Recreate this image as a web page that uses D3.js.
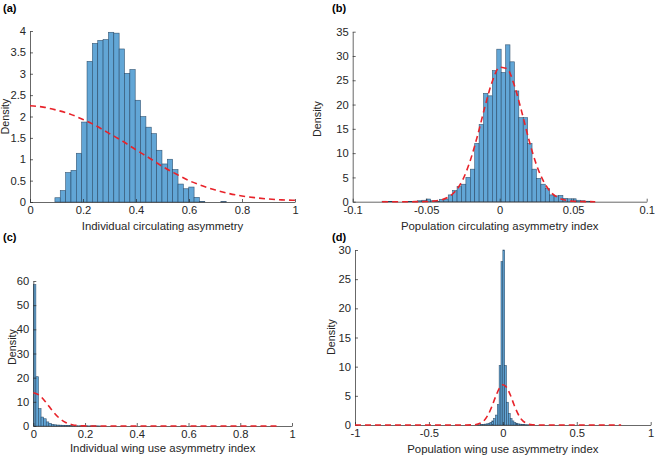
<!DOCTYPE html>
<html><head><meta charset="utf-8">
<script src="https://cdn.jsdelivr.net/npm/d3@7"></script>
<style>
body{margin:0;background:#fff;}
svg{display:block;font-family:"Liberation Sans",Arial,Helvetica,sans-serif;}
</style></head><body>
<svg id="chart" width="656" height="456"></svg>
<script>
// ================= DATA =================
const panelLabels = ["(a)", "(b)", "(c)", "(d)"];
const xAxisTitles = [
  "Individual circulating asymmetry",
  "Population circulating asymmetry index",
  "Individual wing use asymmetry index",
  "Population wing use asymmetry index"
];
const yAxisTitle = "Density";

// (a) Individual circulating asymmetry
const aBinStart = 0.094, aBinWidth = 0.0202;
const aDensity = [0.10,0.27,0.69,0.74,1.14,1.87,3.29,3.71,3.78,3.80,3.97,3.95,3.58,3.01,3.10,2.38,2.00,1.75,1.60,1.21,0.89,1.00,0.76,0.42,0.31,0.35,0.11,0.015,0,0,0,0.01];
const aFitX = [0,0.05,0.1,0.15,0.2,0.25,0.3,0.35,0.4,0.45,0.5,0.55,0.6,0.65,0.7,0.75,0.8,0.85,0.9,0.95,1];
const aFitY = [2.25,2.22,2.15,2.06,1.93,1.78,1.60,1.42,1.22,1.03,0.83,0.66,0.50,0.38,0.28,0.20,0.14,0.10,0.07,0.05,0.04];
const aXTicks = [0,0.2,0.4,0.6,0.8,1];
const aXTickLabels = ["0","0.2","0.4","0.6","0.8","1"];
const aYTicks = [0,0.5,1,1.5,2,2.5,3,3.5,4];
const aYTickLabels = ["0","0.5","1","1.5","2","2.5","3","3.5","4"];

// (b) Population circulating asymmetry index
const bBinStart = -0.080, bBinWidth = 0.003;
const bDensity = [0.1,0.05,0.05,0,0,0.05,0.05,0.1,0.2,0.3,0.55,0.2,0.1,
  0.5,0.55,1.4,2.3,3.1,3.6,5.0,6.7,12.0,15.9,22.3,21.8,27.0,31.4,26.6,32.3,28.8,22.8,17.3,17.3,12.0,6.7,4.8,3.6,2.7,1.4,1.2,
  1.3,0.7,0.6,0.6,0.3,0.2,0.1,0.05];
const bFitX = [-0.08,-0.075,-0.07,-0.065,-0.06,-0.055,-0.05,-0.045,-0.04,-0.035,-0.03,-0.025,-0.02,-0.015,-0.01,-0.005,0,0.005,0.01,0.015,0.02,0.025,0.03,0.035,0.04,0.045,0.05,0.055,0.06,0.065];
const bFitY = [0,0,0,0,0.002,0.01,0.04,0.12,0.36,0.96,2.2,4.6,8.5,13.7,19.6,24.8,27.7,27.4,23.9,18.5,12.6,7.6,4.1,1.9,0.8,0.29,0.1,0.03,0.01,0];
const bXTicks = [-0.1,-0.05,0,0.05,0.1];
const bXTickLabels = ["-0.1","-0.05","0","0.05","0.1"];
const bYTicks = [0,5,10,15,20,25,30,35];
const bYTickLabels = ["0","5","10","15","20","25","30","35"];

// (c) Individual wing use asymmetry index
const cBinStart = 0, cBinWidth = 0.01;
const cDensity = [58.5,20.4,7.2,3.7,3.0,1.7,1.1,0.7,0.5,0.4,0.35,0.3,0.25,0.2,0.15,0.1,0.1,0.08,0.1,0.05,0.08,0.05,0.05,0.1,0.05,0.03];
const cFitX = [0,0.025,0.05,0.075,0.1,0.125,0.15,0.175,0.2,0.25,0.3,0.4,0.5,0.6,0.7,0.8,0.9,0.95];
const cFitY = [13.8,12.6,9.64,6.15,3.28,1.46,0.55,0.17,0.04,0,0,0,0,0,0,0,0,0];
const cXTicks = [0,0.2,0.4,0.6,0.8,1];
const cXTickLabels = ["0","0.2","0.4","0.6","0.8","1"];
const cYTicks = [0,10,20,30,40,50,60];
const cYTickLabels = ["0","10","20","30","40","50","60"];

// (d) Population wing use asymmetry index
const dBinStart = -0.175, dBinWidth = 0.0125;
const dDensity = [0.05,0.05,0.1,0.1,0.15,0.2,0.3,0.45,0.7,1.1,1.7,3.5,10.2,28,
  30,10.2,3.9,2.0,1.1,0.7,0.4,0.3,0.2,0.15,0.1,0.1,0.05,0.05];
const dFitX = [-1,-0.5,-0.25,-0.2,-0.15,-0.125,-0.1,-0.075,-0.05,-0.025,0,0.025,0.05,0.075,0.1,0.125,0.15,0.2,0.25,0.5,0.8];
const dFitY = [0,0,0.005,0.033,0.33,0.82,1.73,3.13,4.79,6.23,6.89,6.48,5.18,3.52,2.03,0.99,0.42,0.044,0.003,0,0];
const dXTicks = [-1,-0.5,0,0.5,1];
const dXTickLabels = ["-1","-0.5","0","0.5","1"];
const dYTicks = [0,5,10,15,20,25,30];
const dYTickLabels = ["0","5","10","15","20","25","30"];

// ================= LAYOUT / STYLE =================
const barFill = "#62a6d6";
const barStroke = "#22415e";
const fitColor = "#e8232a";
const axisColor = "#262626";
const fontStack = '"Liberation Sans",Arial,Helvetica,sans-serif';

const panels = [
  {lab:panelLabels[0], xt:xAxisTitles[0], bs:aBinStart, bw:aBinWidth, dens:aDensity, fx:aFitX, fy:aFitY,
   xd:[0,1], yd:[0,4], xtv:aXTicks, xtl:aXTickLabels, ytv:aYTicks, ytl:aYTickLabels,
   box:{l:30,r:295,b:202,t:31}, labPos:[3,12], xtY:230, ytPos:[9,116.5]},
  {lab:panelLabels[1], xt:xAxisTitles[1], bs:bBinStart, bw:bBinWidth, dens:bDensity, fx:bFitX, fy:bFitY,
   xd:[-0.1,0.1], yd:[0,35], xtv:bXTicks, xtl:bXTickLabels, ytv:bYTicks, ytl:bYTickLabels,
   box:{l:352.7,r:646.7,b:201.7,t:31.7}, labPos:[332,12], xtY:230, ytPos:[321,119]},
  {lab:panelLabels[2], xt:xAxisTitles[2], bs:cBinStart, bw:cBinWidth, dens:cDensity, fx:cFitX, fy:cFitY,
   xd:[0,1], yd:[0,60], xtv:cXTicks, xtl:cXTickLabels, ytv:cYTicks, ytl:cYTickLabels,
   box:{l:33.3,r:292,b:426,t:281}, labPos:[3,241], xtY:452, ytPos:[16,347]},
  {lab:panelLabels[3], xt:xAxisTitles[3], bs:dBinStart, bw:dBinWidth, dens:dDensity, fx:dFitX, fy:dFitY,
   xd:[-1,1], yd:[0,30], xtv:dXTicks, xtl:dXTickLabels, ytv:dYTicks, ytl:dYTickLabels,
   box:{l:355,r:650.7,b:425,t:250}, labPos:[332,241], xtY:453, ytPos:[335,337]}
];

const svg = d3.select("#chart");

panels.forEach(p => {
  const g = svg.append("g");
  const x = d3.scaleLinear().domain(p.xd).range([p.box.l, p.box.r]);
  const y = d3.scaleLinear().domain(p.yd).range([p.box.b, p.box.t]);

  const bins = p.dens.map((v, i) => ({x0: p.bs + i * p.bw, x1: p.bs + (i + 1) * p.bw, v}))
                     .filter(b => b.v > 0);
  g.append("g").selectAll("rect").data(bins).join("rect")
    .attr("x", b => x(b.x0))
    .attr("width", b => x(b.x1) - x(b.x0))
    .attr("y", b => y(b.v))
    .attr("height", b => y(0) - y(b.v))
    .attr("fill", barFill)
    .attr("stroke", barStroke)
    .attr("stroke-opacity", 0.85)
    .attr("stroke-width", 0.6);

  const xa = d3.axisBottom(x).tickValues(p.xtv).tickFormat((d, i) => p.xtl[i])
    .tickSizeInner(-3).tickSizeOuter(0).tickPadding(4.5);
  const ya = d3.axisLeft(y).tickValues(p.ytv).tickFormat((d, i) => p.ytl[i])
    .tickSizeInner(-3).tickSizeOuter(0).tickPadding(4);

  const gx = g.append("g").attr("transform", `translate(0,${p.box.b})`).call(xa);
  const gy = g.append("g").attr("transform", `translate(${p.box.l},0)`).call(ya);
  [gx, gy].forEach(a => {
    a.select(".domain").attr("stroke", axisColor).attr("stroke-width", 0.7);
    a.selectAll(".tick line").attr("stroke", axisColor).attr("stroke-width", 0.7);
    a.selectAll(".tick text").attr("fill", axisColor)
      .style("font-family", fontStack).style("font-size", "11.2px");
  });

  const line = d3.line().x(d => x(d[0])).y(d => y(d[1])).curve(d3.curveMonotoneX);
  g.append("path").datum(p.fx.map((xx, i) => [xx, p.fy[i]]))
    .attr("d", line)
    .attr("fill", "none")
    .attr("stroke", fitColor)
    .attr("stroke-width", 1.6)
    .attr("stroke-dasharray", "6,4");

  g.append("text").attr("x", (p.box.l + p.box.r) / 2).attr("y", p.xtY)
    .attr("text-anchor", "middle").attr("fill", axisColor).style("font-size", "11.4px").text(p.xt);
  g.append("text").attr("transform", `translate(${p.ytPos[0]},${p.ytPos[1]}) rotate(-90)`)
    .attr("text-anchor", "middle").attr("fill", axisColor).style("font-size", "10.8px").text(yAxisTitle);
  g.append("text").attr("x", p.labPos[0]).attr("y", p.labPos[1])
    .attr("fill", "#000").style("font-size", "11px").style("font-weight", "bold").text(p.lab);
});
</script>
</body></html>
